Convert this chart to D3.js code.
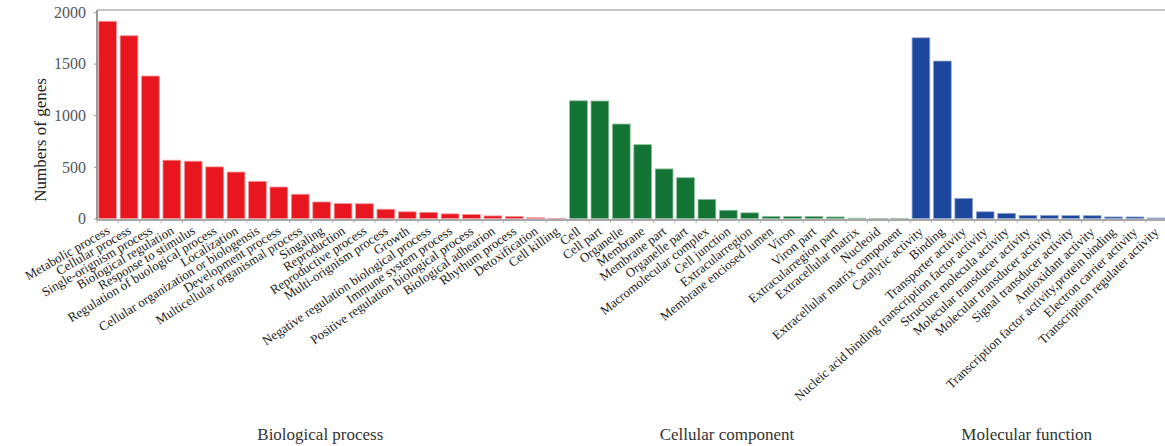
<!DOCTYPE html>
<html>
<head>
<meta charset="utf-8">
<script src="https://cdn.jsdelivr.net/npm/d3@7/dist/d3.min.js"></script>
<style>
  html, body { margin: 0; padding: 0; background: #fff; }
  svg { display: block; }
</style>
</head>
<body>
<svg id="chart" width="1165" height="446"></svg>
<script>
// GO annotation counts, grouped by ontology
const groups = ["Biological process", "Cellular component", "Molecular function"];

const bpTerms = [
  "Metabolic process", "Cellular process", "Single-orignism process", "Biological regulation",
  "Response to stimulus", "Regulation of buological process", "Localization",
  "Cellular organization or biologensis", "Development process", "Multicellular organismal process",
  "Singaling", "Reproduction", "Reproductive process", "Multi-orignism process", "Growth",
  "Negative regulation biological process", "Immune system process",
  "Positive regulation biological process", "Biological adhearion", "Rhythum process",
  "Detoxification", "Cell killing"
];
const bpCounts = [1910, 1770, 1380, 565, 555, 500, 450, 360, 305, 235,
                  160, 145, 143, 90, 65, 60, 45, 40, 25, 20, 8, 1];

const ccTerms = [
  "Cell", "Cell part", "Organelle", "Membrane", "Membrane part", "Organelle part",
  "Macromolecular complex", "Cell junction", "Extracularregion", "Membrane enciosed lumen",
  "Viron", "Viron part", "Extracularregion part", "Extracellular matrix", "Nucleoid",
  "Extracellular matrix component"
];
const ccCounts = [1140, 1138, 915, 715, 480, 395, 185, 80, 55, 20, 20, 20, 15, 3, 1, 1];

const mfTerms = [
  "Catalytic activity", "Binding", "Transporter activity",
  "Nucleic acid binding transcription factor activity", "Structure molecula activity",
  "Molecular transducer activity", "Molecular transducer activity", "Signal transducer activity",
  "Antioxidant activity", "Transcription factor activity,protein binding",
  "Electron carrier activity", "Transcription regulater activity"
];
const mfCounts = [1750, 1525, 195, 65, 50, 30, 30, 28, 27, 15, 15, 5];

const yTicks = [0, 500, 1000, 1500, 2000];
const yTitle = "Numbers of genes";

// fill / edge colours per ontology
const palette = {
  "Biological process": { fill: "#e8161e", edge: "#f49a9c" },
  "Cellular component": { fill: "#137435", edge: "#8fbf9e" },
  "Molecular function": { fill: "#1d469d", edge: "#93a6d2" }
};

// flat list of bars built from the arrays above
const rows = [];
[[bpTerms, bpCounts], [ccTerms, ccCounts], [mfTerms, mfCounts]].forEach(([terms, counts], g) => {
  terms.forEach((t, i) => rows.push({ key: rows.length, term: t, value: counts[i], group: groups[g] }));
});

const svg = d3.select("#chart");
const plot = { left: 97, right: 1167, top: 10, bottom: 220 };

const x = d3.scaleBand()
  .domain(rows.map(d => d.key))
  .range([plot.left, plot.right])
  .paddingInner(0.17)
  .paddingOuter(0.08);

const y = d3.scaleLinear()
  .domain([0, 2000])
  .range([218.5, 12]);

const serif = "'Liberation Serif', 'DejaVu Serif', serif";

// frame: top border line
svg.append("line")
  .attr("x1", plot.left).attr("x2", 1165)
  .attr("y1", plot.top).attr("y2", plot.top)
  .attr("stroke", "#b4b4b4").attr("stroke-width", 1.5);

// bars
svg.append("g").selectAll("rect")
  .data(rows)
  .join("rect")
  .attr("x", d => x(d.key))
  .attr("width", x.bandwidth())
  .attr("y", d => y(d.value))
  .attr("height", d => y(0) - y(d.value))
  .attr("fill", d => palette[d.group].fill)
  .attr("stroke", d => palette[d.group].edge)
  .attr("stroke-width", 0.8);

// y axis
const yAxis = svg.append("g")
  .attr("transform", `translate(${plot.left},0)`)
  .call(d3.axisLeft(y).tickValues(yTicks).tickSize(3).tickPadding(8).tickFormat(d3.format("d")));
yAxis.select(".domain").attr("stroke", "#9a9a9a").attr("stroke-width", 2)
  .attr("d", `M0,${plot.top}V${plot.bottom}`);
yAxis.selectAll(".tick line").attr("stroke", "#9a9a9a");
yAxis.selectAll(".tick text")
  .attr("font-family", serif).attr("font-size", 16).attr("fill", "#555");

// x axis baseline with small separators
svg.append("line")
  .attr("x1", plot.left).attr("x2", 1165)
  .attr("y1", plot.bottom).attr("y2", plot.bottom)
  .attr("stroke", "#a8a8a8").attr("stroke-width", 2);
svg.append("g").selectAll("line")
  .data(rows)
  .join("line")
  .attr("x1", d => x(d.key) - x.step() * 0.085)
  .attr("x2", d => x(d.key) - x.step() * 0.085)
  .attr("y1", plot.bottom).attr("y2", plot.bottom + 3)
  .attr("stroke", "#b0b0b0").attr("stroke-width", 1);

// category labels, slanted; the slant steepens toward the right
const first = x(0) + x.bandwidth() / 2;
const last = x(rows.length - 1) + x.bandwidth() / 2;
const slant = d3.scaleLinear().domain([first, last]).range([30, 44]);

svg.append("g").selectAll("text")
  .data(rows)
  .join("text")
  .attr("transform", d => {
    const cx = x(d.key) + x.bandwidth() / 2;
    return `translate(${cx + 3},${plot.bottom + 13}) rotate(${-slant(cx)})`;
  })
  .attr("text-anchor", "end")
  .attr("font-family", serif)
  .attr("font-size", 13)
  .attr("fill", "#1a1a1a")
  .text(d => d.term);

// y title
svg.append("text")
  .attr("transform", `translate(46,140) rotate(-90)`)
  .attr("text-anchor", "middle")
  .attr("font-family", serif)
  .attr("font-size", 17)
  .attr("fill", "#222")
  .text(yTitle);

// ontology names under each group
svg.append("g").selectAll("text")
  .data(groups)
  .join("text")
  .attr("x", g => {
    const ks = rows.filter(r => r.group === g).map(r => x(r.key) + x.bandwidth() / 2);
    return d3.mean(ks) - 12;
  })
  .attr("y", 440)
  .attr("text-anchor", "middle")
  .attr("font-family", serif)
  .attr("font-size", 17)
  .attr("fill", "#333")
  .text(g => g);
</script>
</body>
</html>
